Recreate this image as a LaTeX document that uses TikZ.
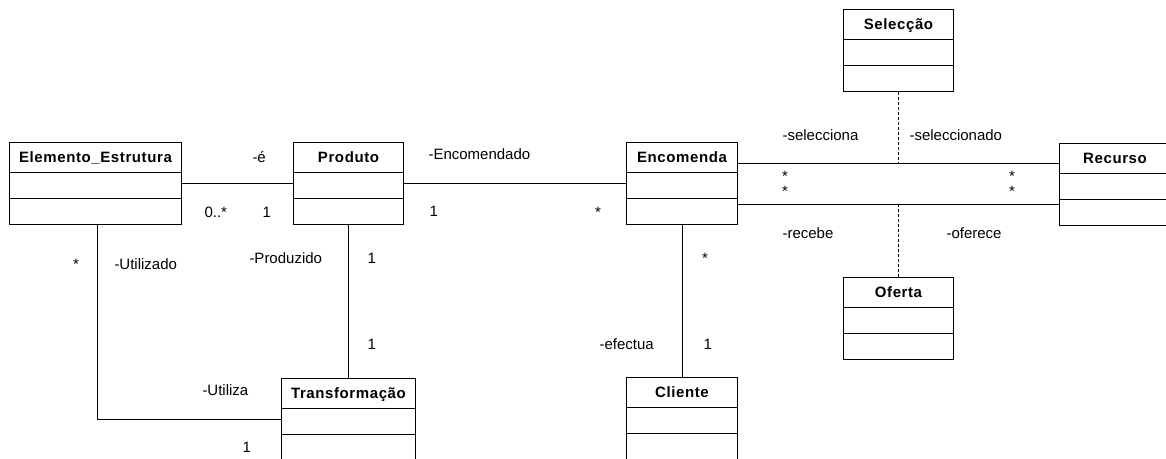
\documentclass[tikz,border=0pt]{standalone}
\usepackage{fontspec}
\setmainfont{Liberation Sans}
\begin{document}
\begin{tikzpicture}[x=1pt,y=-1pt,
  line width=1pt,
  classbox/.style={draw, rectangle, minimum height=82pt, inner sep=0pt, anchor=north west},
  classtitle/.style={anchor=base, inner sep=0pt, font=\fontsize{15}{18}\selectfont\bfseries\addfontfeature{LetterSpace=4}},
  lbl/.style={anchor=base west, inner sep=0pt, font=\fontsize{15}{18}\selectfont},
  mult/.style={anchor=base, inner sep=0pt, font=\fontsize{15}{18}\selectfont},
  assoc/.style={line width=1pt},
  linkline/.style={dashed, dash pattern=on 3pt off 2pt, line width=1pt}]
\useasboundingbox (0,0) rectangle (1166,458);
\clip (0,0) rectangle (1166,458);

% a class: box, title in the header, two compartment separators
\newcommand\umlclass[5]{%
  \node[classbox, minimum width=#4] (#1) at (#2,#3) {};
  \node[classtitle] (#1-t) at ([yshift=-20pt]#1.north) {#5};
  \draw ([yshift=-30pt]#1.north west) -- ([yshift=-30pt]#1.north east);
  \draw ([yshift=-56pt]#1.north west) -- ([yshift=-56pt]#1.north east);
}

\umlclass{elem}{9}{142}{172pt}{Elemento\_Estrutura}
\umlclass{prod}{293}{142}{110pt}{Produto}
\umlclass{enc}{626}{142}{111pt}{Encomenda}
\umlclass{rec}{1059}{143}{111pt}{Recurso}
\umlclass{sel}{843}{9}{110pt}{Selecção}
\umlclass{ofe}{843}{277}{110pt}{Oferta}
\umlclass{tra}{281}{378}{134pt}{Transformação}
\umlclass{cli}{626}{377}{111pt}{Cliente}

% associations
\draw[assoc] (elem.east) -- (prod.west);
\draw[assoc] (prod.east) -- (enc.west);
\coordinate (encR1) at ([yshift=20pt]enc.east);
\coordinate (encR2) at ([yshift=-21pt]enc.east);
\draw[assoc] (encR1) -- (encR1 -| rec.west);
\draw[assoc] (encR2) -- (encR2 -| rec.west);
\draw[linkline] (sel.south) -- (sel.south |- encR1);
\draw[linkline] (ofe.north) -- (ofe.north |- encR2);
\draw[assoc] (prod.south) -- (prod.south |- tra.north);
\draw[assoc] ([xshift=2pt]elem.south) |- (tra.west);
\draw[assoc] (enc.south) -- (enc.south |- cli.north);

% role names and multiplicities
\node[lbl] (r-e) at (252,162) {-é};
\node[lbl] (m-el) at (204,217) {0..*};
\node[lbl] (m-pl) at (262,217) {1};
\node[lbl] (r-enc) at (428,159) {-Encomendado};
\node[lbl] (m-pr) at (429,216) {1};
\node[mult] (m-el2) at (598,217) {*};
\node[lbl] (r-sa) at (782,140) {-selecciona};
\node[lbl] (r-sb) at (909,140) {-seleccionado};
\node[mult] (m-a1) at (785,181) {*};
\node[mult] (m-a2) at (785,196) {*};
\node[mult] (m-b1) at (1012,181) {*};
\node[mult] (m-b2) at (1012,196) {*};
\node[lbl] (r-rec) at (782,238) {-recebe};
\node[lbl] (r-of) at (946,238) {-oferece};
\node[mult] (m-ec) at (705,263) {*};
\node[lbl] (r-ef) at (599,349) {-efectua};
\node[lbl] (m-cl) at (703,349) {1};
\node[mult] (m-eu) at (76,269) {*};
\node[lbl] (r-ut) at (114,269) {-Utilizado};
\node[lbl] (r-pz) at (249,263) {-Produzido};
\node[lbl] (m-p1) at (367,263) {1};
\node[lbl] (m-t1) at (367,349) {1};
\node[lbl] (r-uz) at (202,395) {-Utiliza};
\node[lbl] (m-t2) at (242,452) {1};
\end{tikzpicture}
\end{document}
